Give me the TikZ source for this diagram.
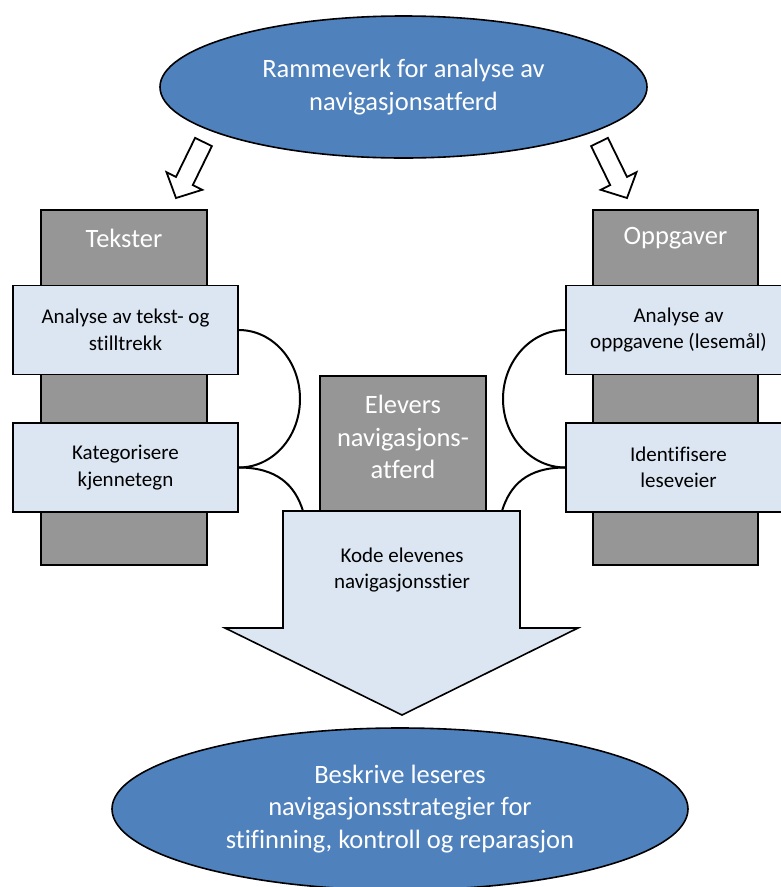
\documentclass[tikz,border=0pt]{standalone}
\usepackage{fontspec}
\setmainfont{Carlito}[Ligatures=CommonOff]
\usetikzlibrary{shapes.geometric}
\definecolor{ellblue}{HTML}{4F81BD}
\definecolor{colgray}{HTML}{969696}
\definecolor{lightbox}{HTML}{DCE6F2}
\tikzset{
  outl/.style={draw=black, line width=1.6pt},
  bigoval/.style={outl, ellipse, fill=ellblue, inner sep=0pt, text=white, align=center,
    font=\fontsize{26.5}{32.5}\selectfont},
  graycol/.style={outl, rectangle, fill=colgray, inner sep=0pt},
  graytext/.style={text=white, align=center, font=\fontsize{26.5}{32.5}\selectfont},
  stepbox/.style={outl, rectangle, fill=lightbox, inner sep=0pt, minimum width=225pt,
    minimum height=89pt, align=center, font=\fontsize{21}{26.5}\selectfont},
  hollowarrow/.style={draw=black, line width=1.8pt, fill=white, line join=miter},
  link/.style={draw=black, line width=2pt},
}
\begin{document}
\begin{tikzpicture}[x=1pt, y=-1pt]
\useasboundingbox (0,0) rectangle (781,887);

% top ellipse
\node[bigoval, minimum width=487pt, minimum height=142pt] (top) at (403.5,87)
  {Rammeverk for analyse av\\navigasjonsatferd};

% hollow block arrows
\draw[hollowarrow] (195.1,137.9) -- (211.9,146.1) -- (192.8,185.1) -- (202.3,189.8)
  -- (176,198) -- (166.5,172.2) -- (176,176.9) -- cycle;
\draw[hollowarrow] (607.9,137.9) -- (591.1,146.1) -- (610.2,185.1) -- (600.7,189.8)
  -- (627,198) -- (636.5,172.2) -- (627,176.9) -- cycle;

% columns
\node[graycol, minimum width=166pt, minimum height=355pt] (lcol) at (124,387.5) {};
\node[graycol, minimum width=165pt, minimum height=355pt] (rcol) at (675.5,387.5) {};
\node[graytext] (ltitle) at (124,238) {Tekster};
\node[graytext] (rtitle) at (675.5,238) {Oppgaver};

% step boxes
\node[stepbox] (L1) at (125.5,330) {Analyse av tekst- og\\stilltrekk};
\node[stepbox] (L2) at (125.5,467.5) {Kategorisere\\kjennetegn};
\node[stepbox] (R1) at (678.5,330) {Analyse av\\oppgavene (lesemål)};
\node[stepbox] (R2) at (678.5,467.5) {Identifisere\\leseveier};

% middle gray box
\node[graycol, minimum width=166pt, minimum height=135pt] (mid) at (403,443.5) {};
\node[graytext] (midtext) at (403,437) {Elevers\\navigasjons-\\atferd};

% connector curves
\coordinate (lc) at (300,399);
\coordinate (rc) at (503,399);
\coordinate (la) at (303,511);
\coordinate (ra) at (502,511);
\draw[link] (L1.east) .. controls +(34,0) and +(0,-38) .. (lc)
  .. controls +(0,38) and +(34,0) .. (L2.east);
\draw[link] (L2.east) .. controls +(38,0) and +(-8,-26) .. (la);
\draw[link] (R1.west) .. controls +(-34,0) and +(0,-38) .. (rc)
  .. controls +(0,38) and +(-34,0) .. (R2.west);
\draw[link] (R2.west) .. controls +(-38,0) and +(8,-26) .. (ra);

% big down arrow
\draw[outl, fill=lightbox, line join=miter] (283,511) -- (520,511) -- (520,628) -- (578,628)
  -- (402,715) -- (225,628) -- (283,628) -- cycle;
\node[align=center, font=\fontsize{21}{26.5}\selectfont] (code) at (402,570)
  {Kode elevenes\\navigasjonsstier};

% bottom ellipse
\node[bigoval, minimum width=576pt, minimum height=162pt] (bottom) at (400,809)
  {Beskrive leseres\\navigasjonsstrategier for\\stifinning, kontroll og reparasjon};
\end{tikzpicture}
\end{document}
